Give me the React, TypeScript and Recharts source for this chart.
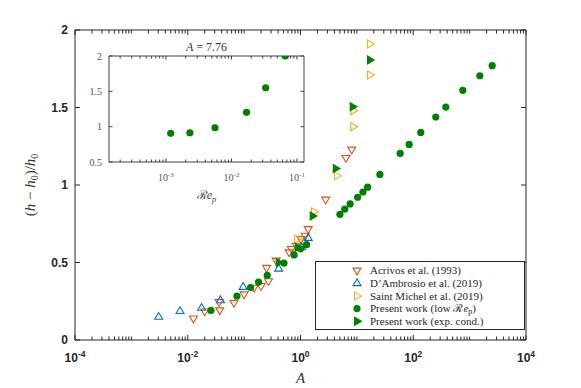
import React from 'react'
import { ScatterChart, Scatter, XAxis, YAxis, Legend, Label, ReferenceLine } from 'recharts'

// Acrivos et al. (1993)
const acrivosA = [0.0126, 0.02, 0.037, 0.036, 0.066, 0.1, 0.15, 0.2, 0.27, 0.25, 0.37, 0.63, 0.69, 0.84, 1.02, 1.21, 1.37, 2.8, 6.4, 8.1]
const acrivosH = [0.139, 0.185, 0.192, 0.245, 0.24, 0.295, 0.338, 0.348, 0.38, 0.466, 0.513, 0.566, 0.588, 0.609, 0.652, 0.673, 0.716, 0.906, 1.175, 1.229]

// D'Ambrosio et al. (2019)
const dambrosioA = [0.00305, 0.0073, 0.0176, 0.038, 0.096, 0.41, 1.05, 1.37]
const dambrosioH = [0.149, 0.186, 0.207, 0.256, 0.342, 0.46, 0.598, 0.658]

// Saint Michel et al. (2019)
const saintMichelA = [0.87, 1.73, 4.4, 8.6, 8.6, 17, 17]
const saintMichelH = [0.652, 0.827, 1.059, 1.376, 1.479, 1.71, 1.91]

// present work, low Re_p
const lowReA = [0.0258, 0.0745, 0.13, 0.18, 0.257, 0.51, 0.77, 1.0, 1.28, 5.0, 6.1, 7.6, 10.3, 12.8, 15.5, 25.6, 58.6, 84.6, 136, 251, 378, 757, 1517, 2512]
const lowReH = [0.191, 0.284, 0.338, 0.374, 0.417, 0.496, 0.549, 0.588, 0.615, 0.811, 0.844, 0.878, 0.921, 0.955, 0.986, 1.068, 1.204, 1.262, 1.339, 1.438, 1.503, 1.611, 1.705, 1.77]

// present work, exp. conditions
const expA = [0.41, 0.89, 1.64, 4.2, 8.4, 17]
const expH = [0.5, 0.598, 0.8, 1.107, 1.505, 1.807]

// inset: A = 7.76
const insetRe = [0.00118, 0.00232, 0.0056, 0.017, 0.0333, 0.0664]
const insetH = [0.906, 0.914, 0.985, 1.203, 1.551, 2.0]

const xLabelTicks = [1e-4, 1e-2, 1, 1e2, 1e4]
const yTicks = [0, 0.5, 1, 1.5, 2]
const insetYTicks = [0.5, 1, 1.5, 2]

const RED = '#D95319'
const BLUE = '#0072BD'
const YELLOW = '#EDB120'
const GREEN = '#008000'
const ink = '#262626'
const serif = '"Liberation Serif", "Times New Roman", serif'
const sans = '"Liberation Sans", Arial, sans-serif'

const pts = (xs: number[], ys: number[]) => xs.map((x, i) => ({ x, y: ys[i] }))

const decades = (lo: number, hi: number) => {
  const out: number[] = []
  for (let e = Math.ceil(Math.log10(lo) - 1e-9); e <= Math.floor(Math.log10(hi) + 1e-9); e++) out.push(Math.pow(10, e))
  return out
}
const minors = (lo: number, hi: number) => {
  const out: number[] = []
  for (let e = Math.floor(Math.log10(lo)); e <= Math.ceil(Math.log10(hi)); e++)
    for (let m = 2; m <= 9; m++) {
      const v = m * Math.pow(10, e)
      if (v > lo && v < hi) out.push(v)
    }
  return out
}
const isIn = (list: number[], v: number) => list.some(t => Math.abs(t - v) / t < 1e-6)

type Kind = 'down' | 'up' | 'right' | 'circle'

function marker(kind: Kind, cx: number, cy: number, color: string, filled: boolean, s = 4) {
  if (kind === 'circle') return <circle cx={cx} cy={cy} r={s * 0.9} fill={color} stroke="none" />
  let p = ''
  if (kind === 'down') p = `${cx - s},${cy - s * 0.6} ${cx + s},${cy - s * 0.6} ${cx},${cy + s * 1.1}`
  if (kind === 'up') p = `${cx - s},${cy + s * 0.6} ${cx + s},${cy + s * 0.6} ${cx},${cy - s * 1.1}`
  if (kind === 'right') p = `${cx - s * 0.6},${cy - s} ${cx - s * 0.6},${cy + s} ${cx + s * 1.1},${cy}`
  return <polygon points={p} fill={filled ? color : 'none'} stroke={color} strokeWidth={1.1} />
}

const shapeOf = (kind: Kind, color: string, filled: boolean) => (props: any) =>
  marker(kind, props.cx, props.cy, color, filled)

const legendItems: { kind: Kind; color: string; filled: boolean; label: React.ReactNode }[] = [
  { kind: 'down', color: RED, filled: false, label: 'Acrivos et al. (1993)' },
  { kind: 'up', color: BLUE, filled: false, label: 'D\u2019Ambrosio et al. (2019)' },
  { kind: 'right', color: YELLOW, filled: false, label: 'Saint Michel et al. (2019)' },
  {
    kind: 'circle', color: GREEN, filled: true,
    label: <>Present work (low ℛ<tspan style={{ fontStyle: 'italic' }}>e</tspan><tspan fontSize={8} dy={2}>p</tspan><tspan dy={-2}>)</tspan></>,
  },
  { kind: 'right', color: GREEN, filled: true, label: 'Present work (exp. cond.)' },
]

const LegendBox = () => (
  <svg width={210} height={69}>
    <rect x={0.5} y={0.5} width={209} height={68} fill="#fff" stroke={ink} strokeWidth={1} />
    {legendItems.map((it, i) => {
      const cy = 9.5 + i * 12.7
      return (
        <g key={i}>
          {marker(it.kind, 42, cy, it.color, it.filled)}
          <text x={55} y={cy + 3.8} style={{ fontFamily: serif, fontSize: 11 }} fill={ink}>{it.label}</text>
        </g>
      )
    })}
  </svg>
)

const MainXTick = (props: any) => {
  const { x, y, payload } = props
  const e = Math.round(Math.log10(payload.value))
  return (
    <text x={x} y={y + 14} textAnchor="middle" fill={ink} style={{ fontFamily: sans, fontSize: 12, fontWeight: 'bold' }}>
      10<tspan dy={-5} style={{ fontSize: 8.5 }}>{e}</tspan>
    </text>
  )
}

const MainYTick = (props: any) => {
  const { x, y, payload } = props
  return (
    <text x={x + 1} y={y + 4} textAnchor="end" fill={ink} style={{ fontFamily: sans, fontSize: 12, fontWeight: 'bold' }}>
      {payload.value}
    </text>
  )
}

const InsetXTick = (props: any) => {
  const { x, y, payload } = props
  const e = Math.round(Math.log10(payload.value))
  return (
    <text x={x} y={y + 11} textAnchor="middle" fill="#555" style={{ fontFamily: serif, fontSize: 10 }}>
      10<tspan dy={-4} style={{ fontSize: 7 }}>{e}</tspan>
    </text>
  )
}

const InsetYTick = (props: any) => {
  const { x, y, payload } = props
  return (
    <text x={x + 1} y={y + 3.5} textAnchor="end" fill="#555" style={{ fontFamily: serif, fontSize: 10 }}>
      {payload.value}
    </text>
  )
}

const mainDomain: [number, number] = [1e-4, 1e4]
const mainY: [number, number] = [0, 2]
const insetDomain: [number, number] = [1.35e-4, 0.128]
const insetY: [number, number] = [0.5, 2]
const insetDecades = decades(insetDomain[0], insetDomain[1])

// inward box ticks as reference-line segments; pw / ph are the plot box size in px
function boxTicks(key: string, xa: string, ya: string, xd: [number, number], yd: [number, number], pw: number, ph: number,
  majorX: number[], minorX: number[], yt: number[], major: number, minor: number, color: string) {
  const perPxY = (yd[1] - yd[0]) / ph
  const perPxLogX = Math.log10(xd[1] / xd[0]) / pw
  const out: React.ReactNode[] = []
  const add = (id: string, seg: { x: number; y: number }[]) =>
    out.push(<ReferenceLine key={`${key}-${id}`} xAxisId={xa} yAxisId={ya} segment={seg} stroke={color} strokeWidth={1} ifOverflow="visible" />)
  ;[...majorX, ...minorX].forEach((v, i) => {
    const len = (isIn(majorX, v) ? major : minor) * perPxY
    add(`b${i}`, [{ x: v, y: yd[0] }, { x: v, y: yd[0] + len }])
    add(`t${i}`, [{ x: v, y: yd[1] }, { x: v, y: yd[1] - len }])
  })
  const f = Math.pow(10, major * perPxLogX)
  yt.forEach((v, i) => {
    add(`l${i}`, [{ x: xd[0], y: v }, { x: xd[0] * f, y: v }])
    add(`r${i}`, [{ x: xd[1], y: v }, { x: xd[1] / f, y: v }])
  })
  return out
}

function MainChart() {
  const allDec = decades(mainDomain[0], mainDomain[1])
  const minorX = [...minors(mainDomain[0], mainDomain[1]), ...allDec.filter(d => !isIn(xLabelTicks, d))]
  return (
    <ScatterChart width={581} height={388} margin={{ top: 30, right: 55, bottom: 18, left: 35 }}>
      <XAxis
        xAxisId="a" dataKey="x" type="number" scale="log" domain={mainDomain} allowDataOverflow
        ticks={xLabelTicks} interval={0} tickLine={false} tick={MainXTick} height={30} stroke={ink}
        label={<Label content={(p: any) => (
          <text x={p.viewBox.x + p.viewBox.width / 2} y={p.viewBox.y + 43} textAnchor="middle"
            style={{ fontFamily: serif, fontStyle: 'italic', fontSize: 15 }} fill="#333">A</text>
        )} />}
      />
      <XAxis xAxisId="top" type="number" scale="log" domain={mainDomain} allowDataOverflow orientation="top" mirror height={0.01} tick={false} tickLine={false} stroke={ink} />
      <YAxis
        yAxisId="h" dataKey="y" type="number" domain={mainY} allowDataOverflow ticks={yTicks} interval={0}
        tickLine={false} tick={MainYTick} width={40} stroke={ink}
        label={<Label content={(p: any) => {
          const cx = p.viewBox.x
          const cy = p.viewBox.y + p.viewBox.height / 2
          return (
            <text transform={`translate(${cx},${cy}) rotate(-90)`} textAnchor="middle" style={{ fontFamily: serif, fontSize: 15 }} fill="#333">
              (<tspan style={{ fontStyle: 'italic' }}>h</tspan> − <tspan style={{ fontStyle: 'italic' }}>h</tspan><tspan style={{ fontSize: 10 }} dy={3}>0</tspan><tspan dy={-3}>)/</tspan><tspan style={{ fontStyle: 'italic' }}>h</tspan><tspan style={{ fontSize: 10 }} dy={3}>0</tspan>
            </text>
          )
        }} />}
      />
      <YAxis yAxisId="right" type="number" domain={mainY} allowDataOverflow orientation="right" mirror width={0.01} tick={false} tickLine={false} stroke={ink} />
      {boxTicks('m', 'a', 'h', mainDomain, mainY, 451, 310, xLabelTicks, minorX, yTicks, 5, 3.5, ink)}
      <Legend layout="vertical" align="center" verticalAlign="middle" content={() => <LegendBox />}
        wrapperStyle={{ left: 315, top: 261, width: 210, height: 69 }} />
      <Scatter xAxisId="a" yAxisId="h" name="Acrivos et al. (1993)" data={pts(acrivosA, acrivosH)} shape={shapeOf('down', RED, false)} isAnimationActive={false} />
      <Scatter xAxisId="a" yAxisId="h" name="D'Ambrosio et al. (2019)" data={pts(dambrosioA, dambrosioH)} shape={shapeOf('up', BLUE, false)} isAnimationActive={false} />
      <Scatter xAxisId="a" yAxisId="h" name="Saint Michel et al. (2019)" data={pts(saintMichelA, saintMichelH)} shape={shapeOf('right', YELLOW, false)} isAnimationActive={false} />
      <Scatter xAxisId="a" yAxisId="h" name="Present work (low Re_p)" data={pts(lowReA, lowReH)} shape={shapeOf('circle', GREEN, true)} isAnimationActive={false} />
      <Scatter xAxisId="a" yAxisId="h" name="Present work (exp. cond.)" data={pts(expA, expH)} shape={shapeOf('right', GREEN, true)} isAnimationActive={false} />
    </ScatterChart>
  )
}

function InsetChart() {
  const axisInk = '#404040'
  return (
    <ScatterChart width={260} height={175} margin={{ top: 20, right: 16, bottom: 24, left: 19 }}>
      <XAxis
        xAxisId="r" dataKey="x" type="number" scale="log" domain={insetDomain} allowDataOverflow
        ticks={insetDecades} interval={0} tickLine={false} tick={InsetXTick} height={25} stroke={axisInk}
        label={<Label content={(p: any) => (
          <text x={p.viewBox.x + p.viewBox.width / 2} y={p.viewBox.y + 37} textAnchor="middle" style={{ fontFamily: serif, fontSize: 12 }} fill="#444">
            ℛ<tspan style={{ fontStyle: 'italic' }}>e</tspan><tspan style={{ fontSize: 8.5, fontStyle: 'italic' }} dy={3}>p</tspan>
          </text>
        )} />}
      />
      <XAxis
        xAxisId="top" type="number" scale="log" domain={insetDomain} allowDataOverflow orientation="top" mirror height={0.01}
        tick={false} tickLine={false} stroke={axisInk}
        label={<Label content={(p: any) => (
          <text x={p.viewBox.x + p.viewBox.width / 2} y={p.viewBox.y - 5} textAnchor="middle" style={{ fontFamily: serif, fontSize: 12 }} fill="#333">
            <tspan style={{ fontStyle: 'italic' }}>A</tspan> = 7.76
          </text>
        )} />}
      />
      <YAxis
        yAxisId="h" dataKey="y" type="number" domain={insetY} allowDataOverflow ticks={insetYTicks} interval={0}
        tickLine={false} tick={InsetYTick} width={30} stroke={axisInk}
      />
      <YAxis yAxisId="right" type="number" domain={insetY} allowDataOverflow orientation="right" mirror width={0.01} tick={false} tickLine={false} stroke={axisInk} />
      {boxTicks('i', 'r', 'h', insetDomain, insetY, 195, 106, insetDecades, minors(insetDomain[0], insetDomain[1]), insetYTicks, 3.5, 2.5, axisInk)}
      <Scatter xAxisId="r" yAxisId="h" name="A = 7.76" data={pts(insetRe, insetH)} shape={shapeOf('circle', GREEN, true)} isAnimationActive={false} />
    </ScatterChart>
  )
}

export default function App() {
  return (
    <div style={{ position: 'relative', width: 581, height: 388, background: '#fff' }}>
      <style>{'body{margin:0}'}</style>
      <MainChart />
      <div style={{ position: 'absolute', left: 60, top: 36 }}>
        <InsetChart />
      </div>
    </div>
  )
}
